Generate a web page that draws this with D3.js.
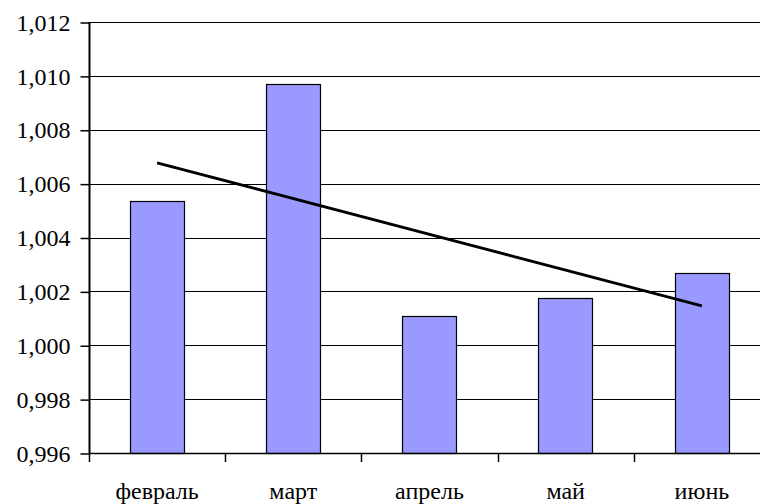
<!DOCTYPE html>
<html>
<head>
<meta charset="utf-8">
<script src="https://cdn.jsdelivr.net/npm/d3@7"></script>
</head>
<body style="margin:0">
<svg id="chart" width="760" height="504" style="display:block"></svg>
<script>
// Monthly index values
const months = ["февраль", "март", "апрель", "май", "июнь"];
const values = [1.00535, 1.00971, 1.00107, 1.00177, 1.00268];
const yTicks = [0.996, 0.998, 1.000, 1.002, 1.004, 1.006, 1.008, 1.010, 1.012];

const W = 760, H = 504;
const margin = { left: 89, top: 22, right: -10, bottom: 51 };
const plotW = W - margin.left - margin.right;
const plotH = H - margin.top - margin.bottom;

const svg = d3.select("#chart");
const g = svg.append("g").attr("transform", `translate(${margin.left},${margin.top})`);

const x = d3.scaleBand().domain(months).range([0, plotW]).padding(0);
const y = d3.scaleLinear().domain([0.996, 1.012]).range([plotH, 0]);

const ru = d3.formatLocale({ decimal: ",", thousands: " ", grouping: [3], currency: ["", ""] });
const fmt = ru.format(".3f");

// Horizontal gridlines
g.append("g")
  .selectAll("line")
  .data(yTicks)
  .join("line")
  .attr("x1", 0)
  .attr("x2", plotW)
  .attr("y1", d => Math.round(y(d)) + 0.5)
  .attr("y2", d => Math.round(y(d)) + 0.5)
  .attr("stroke", "#000")
  .attr("stroke-width", 1.2);

// Bars
const barW = x.bandwidth() * 0.4;
g.append("g")
  .selectAll("rect")
  .data(months.map((m, i) => ({ m, v: values[i] })))
  .join("rect")
  .attr("x", d => Math.round(x(d.m) + (x.bandwidth() - barW) / 2) + 0.5)
  .attr("y", d => Math.round(y(d.v)) + 0.5)
  .attr("width", Math.round(barW))
  .attr("height", d => Math.round(y(0.996)) - Math.round(y(d.v)))
  .attr("fill", "#9999ff")
  .attr("stroke", "#000")
  .attr("stroke-width", 1.2);

// Y axis
const yAxis = d3.axisLeft(y)
  .tickValues(yTicks)
  .tickFormat(fmt)
  .tickSize(9)
  .tickPadding(10);
const ya = g.append("g").attr("transform", "translate(0.5,0)").call(yAxis);
ya.select(".domain").attr("stroke", "#000").attr("stroke-width", 2).attr("d", `M0,0V${plotH}`);
ya.selectAll(".tick line").attr("stroke", "#000").attr("stroke-width", 1.5)
  .attr("transform", "translate(0,0.5)");
ya.selectAll(".tick text")
  .style("font-family", "'Liberation Serif'")
  .style("font-size", "24px")
  .attr("fill", "#000")
  .attr("dy", "0.34em");

// X axis with ticks at category boundaries
const xa = g.append("g").attr("transform", `translate(0,${plotH})`);
xa.append("line")
  .attr("x1", 0).attr("x2", plotW)
  .attr("y1", 0.5).attr("y2", 0.5)
  .attr("stroke", "#000").attr("stroke-width", 1.5);
xa.selectAll("line.tk")
  .data(months.map(m => x(m)).concat([plotW]))
  .join("line")
  .attr("class", "tk")
  .attr("x1", d => Math.round(d) + 0.5)
  .attr("x2", d => Math.round(d) + 0.5)
  .attr("y1", 0).attr("y2", 9)
  .attr("stroke", "#000").attr("stroke-width", 1.5);
xa.selectAll("text.lbl")
  .data(months)
  .join("text")
  .attr("class", "lbl")
  .attr("x", d => x(d) + x.bandwidth() / 2)
  .attr("y", 46)
  .attr("text-anchor", "middle")
  .attr("fill", "#000")
  .style("font-family", "'Liberation Serif'")
  .style("font-size", "24px")
  .text(d => d);

// Linear trend line (least squares)
const n = values.length;
const xs = values.map((_, i) => i + 1);
const mx = d3.mean(xs), my = d3.mean(values);
const slope = d3.sum(xs.map((xi, i) => (xi - mx) * (values[i] - my))) / d3.sum(xs.map(xi => (xi - mx) ** 2));
const icpt = my - slope * mx;
const trend = [1, n].map(xi => ({ m: months[xi - 1], v: icpt + slope * xi }));
g.append("path")
  .datum(trend)
  .attr("fill", "none")
  .attr("stroke", "#000")
  .attr("stroke-width", 2.8)
  .attr("d", d3.line().x(d => x(d.m) + x.bandwidth() / 2).y(d => y(d.v)));
</script>
</body>
</html>
